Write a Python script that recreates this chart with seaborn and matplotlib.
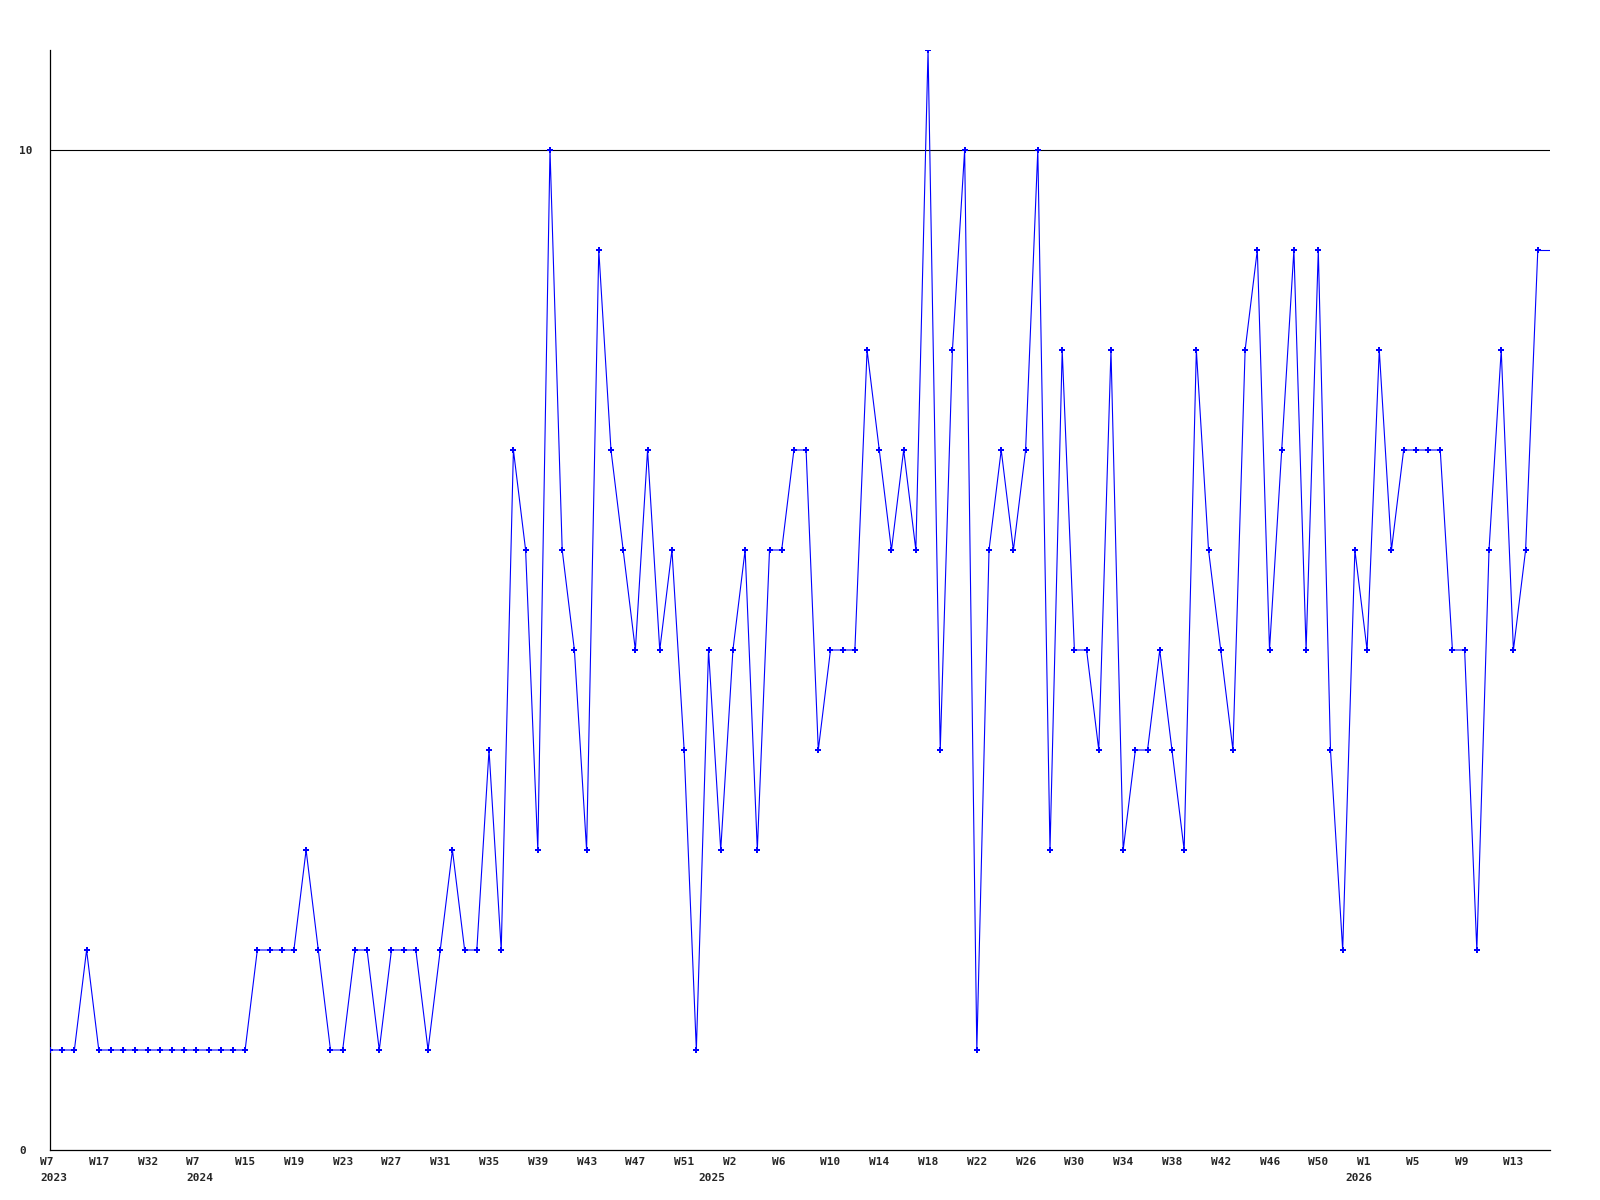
import matplotlib
matplotlib.use("Agg")
import matplotlib.pyplot as plt
import matplotlib.transforms as mtransforms
import seaborn as sns
import numpy as np
import pandas as pd

# weekly counts, one point per reported week
counts = [1, 1, 1, 2, 1, 1, 1, 1, 1, 1, 1, 1, 1, 1, 1, 1, 1,
          2, 2, 2, 2, 3, 2, 1, 1, 2, 2, 1, 2, 2, 2, 1, 2, 3, 2, 2,
          4, 2, 7, 6, 3, 10, 6, 5, 3, 9, 7, 6, 5, 7, 5, 6, 4, 1,
          5, 3, 5, 6, 3, 6, 6, 7, 7, 4, 5, 5, 5, 8, 7, 6, 7, 6,
          11, 4, 8, 10, 1, 6, 7, 6, 7, 10, 3, 8, 5, 5, 4, 8, 3,
          4, 4, 5, 4, 3, 8, 6, 5, 4, 8, 9, 5, 7, 9, 5, 9, 4, 2,
          6, 5, 8, 6, 7, 7, 7, 7, 5, 5, 2, 6, 8, 5, 6, 9]

# x labels every 4th point
tick_weeks = ["W7", "W17", "W32", "W7", "W15", "W19", "W23", "W27",
              "W31", "W35", "W39", "W43", "W47", "W51", "W2", "W6",
              "W10", "W14", "W18", "W22", "W26", "W30", "W34", "W38",
              "W42", "W46", "W50", "W1", "W5", "W9", "W13"]
tick_step = 4

# year captions, placed where each year starts
years = ["2023", "2024", "2025", "2026"]
year_pos = [0, 12, 54, 107]

y_ticks = [0, 10]

df = pd.DataFrame({"idx": np.arange(len(counts)), "count": counts})

sns.set_style("white")
plt.rcParams["font.family"] = ["DejaVu Sans Mono", "DejaVu Sans"]

fig = plt.figure(figsize=(16, 12), dpi=100)
ax = fig.add_axes([50 / 1600, 50 / 1200, 1500 / 1600, 1100 / 1200])

ax.axhline(10, color="black", lw=0.8, zorder=1)

sns.lineplot(data=df, x="idx", y="count", ax=ax, color="#0000ff", lw=0.8,
             marker="P", markersize=4.5, markeredgewidth=0, zorder=3)
# line carries on flat to the right edge
n = len(counts)
ax.plot([n - 1, n], [counts[-1], counts[-1]], color="#0000ff", lw=0.8, zorder=3)

ax.set_xlim(0, n)
ax.set_ylim(0, 11)

for side in ["top", "right"]:
    ax.spines[side].set_visible(False)
for side in ["left", "bottom"]:
    ax.spines[side].set_color("black")
    ax.spines[side].set_linewidth(0.9)

ax.set_xticks(np.arange(len(tick_weeks)) * tick_step)
ax.set_xticklabels(tick_weeks, fontsize=8, fontweight="bold")
ax.set_yticks(y_ticks)
ax.set_yticklabels([str(v) for v in y_ticks], fontsize=8, fontweight="bold")
ax.tick_params(axis="both", length=0)
ax.tick_params(axis="x", pad=5)
ax.tick_params(axis="y", pad=0)

shift_x = mtransforms.ScaledTranslation(-10 / 100, 0, fig.dpi_scale_trans)
for lab in ax.get_xticklabels():
    lab.set_horizontalalignment("left")
    lab.set_transform(lab.get_transform() + shift_x)
shift_y = mtransforms.ScaledTranslation(-31 / 100, 0, fig.dpi_scale_trans)
for lab in ax.get_yticklabels():
    lab.set_horizontalalignment("left")
    lab.set_transform(lab.get_transform() + shift_y)

year_trans = ax.get_xaxis_transform() + mtransforms.ScaledTranslation(
    -10 / 100, -23 / 100, fig.dpi_scale_trans)
for yr, pos in zip(years, year_pos):
    ax.text(pos, 0, yr, transform=year_trans, ha="left", va="top",
            fontsize=8, fontweight="bold", clip_on=False)

ax.set_xlabel("")
ax.set_ylabel("")
ax.grid(False)

fig.savefig("out.png", dpi=100, facecolor="white")
